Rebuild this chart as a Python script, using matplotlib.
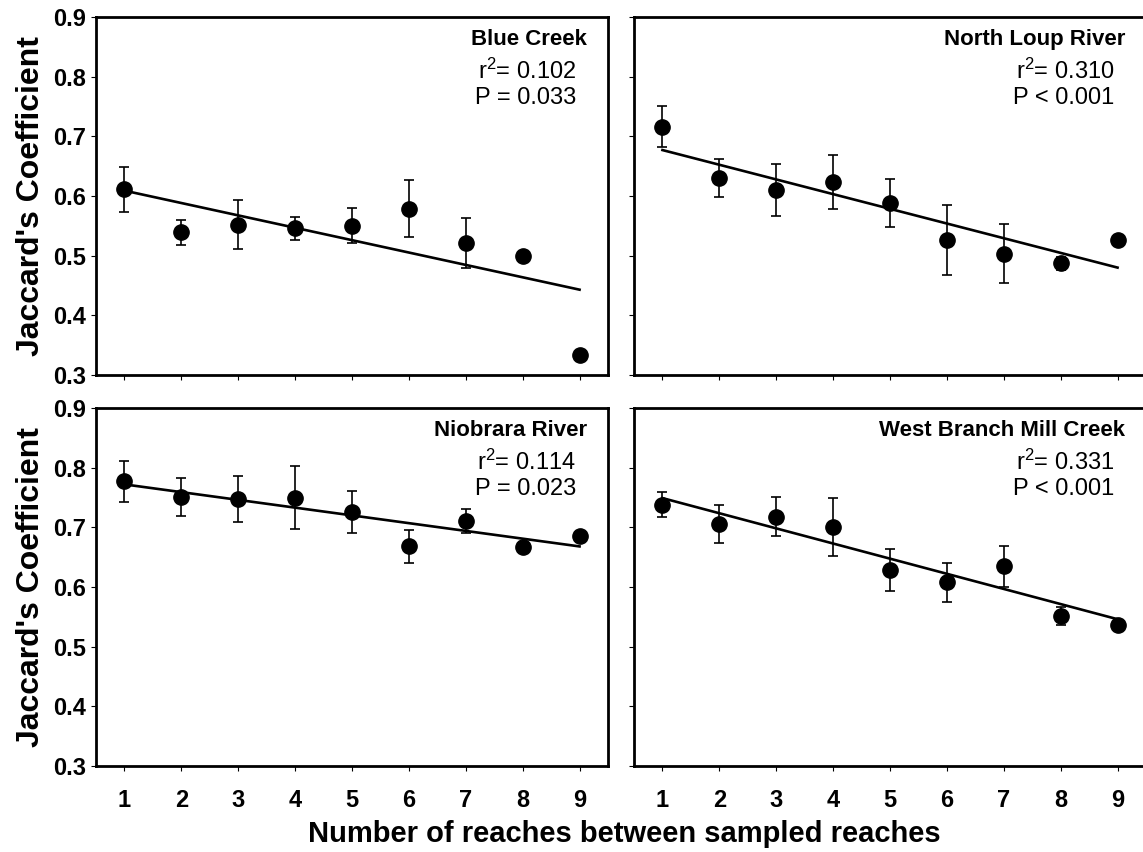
import numpy as np
import matplotlib
matplotlib.use('Agg')
from matplotlib import pyplot as plt

plt.rcParams['font.family'] = ['Liberation Sans', 'DejaVu Sans']
plt.rcParams['mathtext.fontset'] = 'custom'
plt.rcParams['mathtext.rm'] = 'Liberation Sans'
plt.rcParams['mathtext.it'] = 'Liberation Sans:italic'
plt.rcParams['mathtext.bf'] = 'Liberation Sans:bold'

reaches = [1, 2, 3, 4, 5, 6, 7, 8, 9]

names = ['Blue Creek', 'North Loup River', 'Niobrara River', 'West Branch Mill Creek']
r2_text = ['0.102', '0.310', '0.114', '0.331']
p_text = ['= 0.033', '< 0.001', '= 0.023', '< 0.001']

blue_mean = [0.611, 0.539, 0.552, 0.546, 0.550, 0.579, 0.521, 0.500, 0.334]
blue_err = [0.0375, 0.0205, 0.0405, 0.019, 0.0295, 0.0485, 0.0415, 0, 0]
blue_fit = [0.609, 0.443]

loup_mean = [0.716, 0.630, 0.610, 0.624, 0.588, 0.526, 0.503, 0.487, 0.527]
loup_err = [0.0345, 0.0315, 0.0435, 0.045, 0.0405, 0.0585, 0.0495, 0.011, 0]
loup_fit = [0.677, 0.480]

niob_mean = [0.777, 0.751, 0.747, 0.750, 0.726, 0.668, 0.711, 0.667, 0.685]
niob_err = [0.035, 0.0315, 0.0385, 0.0525, 0.035, 0.028, 0.020, 0, 0]
niob_fit = [0.772, 0.668]

mill_mean = [0.738, 0.706, 0.718, 0.700, 0.628, 0.608, 0.635, 0.552, 0.537]
mill_err = [0.0205, 0.032, 0.033, 0.0485, 0.035, 0.0325, 0.0345, 0.015, 0]
mill_fit = [0.749, 0.546]

means = [blue_mean, loup_mean, niob_mean, mill_mean]
errs = [blue_err, loup_err, niob_err, mill_err]
fits = [blue_fit, loup_fit, niob_fit, mill_fit]

fig = plt.figure(figsize=(11.43, 8.52), dpi=100)
W, H = 1143.0, 852.0
lefts = [96 / W, 634 / W]
bottoms = [1 - 375 / H, 1 - 766 / H]
aw, ah = 512 / W, 358 / H

for i in range(4):
    row, col = divmod(i, 2)
    ax = fig.add_axes([lefts[col], bottoms[row], aw, ah])
    x = np.array(reaches)
    m = np.array(means[i])
    e = np.array(errs[i])
    has = e > 0
    ax.errorbar(x[has], m[has], yerr=e[has], fmt='none', ecolor='black',
                elinewidth=1.2, capsize=3.6, capthick=1.2, zorder=2)
    ax.plot([reaches[0], reaches[-1]], fits[i], color='black', lw=1.9, zorder=3)
    ax.plot(x, m, 'o', color='black', markersize=11, zorder=4)

    ax.set_xlim(0.5, 9.5)
    ax.set_ylim(0.3, 0.9)
    ax.set_xticks(reaches)
    ax.set_yticks([0.3, 0.4, 0.5, 0.6, 0.7, 0.8, 0.9])
    for sp in ax.spines.values():
        sp.set_linewidth(2.0)
    ax.tick_params(axis='both', direction='out', length=3.3, width=0.8)
    ax.tick_params(axis='x', pad=13)
    ax.tick_params(axis='y', pad=4)
    if row == 0:
        ax.set_xticklabels([])
    else:
        ax.set_xticklabels([str(r) for r in reaches], fontsize=17, fontweight='bold')
    if col == 1:
        ax.set_yticklabels([])
    else:
        ax.set_yticklabels(['0.3', '0.4', '0.5', '0.6', '0.7', '0.8', '0.9'],
                           fontsize=17, fontweight='bold')
        ax.set_ylabel("Jaccard's Coefficient", fontsize=23, fontweight='bold')
        ax.yaxis.set_label_coords((46 - 96) / 512, 0.5)

    ax.text(9.13, 0.8526, names[i], ha='right', va='baseline',
            fontsize=16, fontweight='bold')
    ax.text(8.94, 0.7967, r'r$^{2}$= ' + r2_text[i], ha='right', va='baseline', fontsize=17)
    ax.text(8.94, 0.7536, 'P ' + p_text[i], ha='right', va='baseline', fontsize=17)

fig.text(624 / W, 1 - 834 / H, 'Number of reaches between sampled reaches',
         ha='center', va='center', fontsize=21, fontweight='bold')

fig.savefig('out.png', dpi=100)
